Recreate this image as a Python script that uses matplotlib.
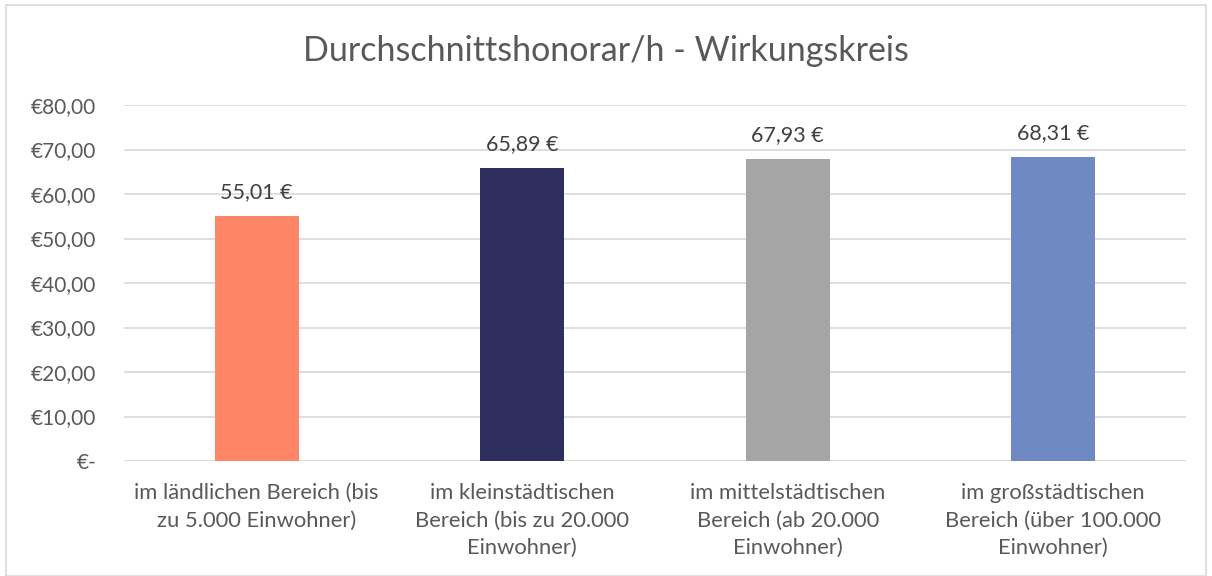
import matplotlib
matplotlib.use("Agg")
import matplotlib.pyplot as plt
from matplotlib.patches import Rectangle

categories = [
    "im ländlichen Bereich (bis\nzu 5.000 Einwohner)",
    "im kleinstädtischen\nBereich (bis zu 20.000\nEinwohner)",
    "im mittelstädtischen\nBereich (ab 20.000\nEinwohner)",
    "im großstädtischen\nBereich (über 100.000\nEinwohner)",
]
values = [55.01, 65.89, 67.93, 68.31]
colors = ["#FF8567", "#2E2F5E", "#A5A5A5", "#6F89C3"]
yticks = [0, 10, 20, 30, 40, 50, 60, 70, 80]
title = "Durchschnittshonorar/h - Wirkungskreis"

plt.rcParams['font.family'] = ['Lato', 'DejaVu Sans']
txt = "#595959"

fig = plt.figure(figsize=(12.12, 5.76), dpi=100)
ax = fig.add_axes([124/1212, 1 - 461/576, (1186-124)/1212, (461-105)/576])

x = list(range(len(values)))
bars = ax.bar(x, values, width=0.316, color=colors, zorder=3)
for xi, v in zip(x, values):
    ax.annotate(f"{v:.2f} €".replace(".", ","), (xi, v), xytext=(0, 10),
                textcoords="offset points", ha="center", va="bottom",
                fontsize=15.5, color="#404040")

ax.set_xlim(-0.5, len(values) - 0.5)
ax.set_ylim(0, 80)
ax.set_yticks(yticks)
ax.set_yticklabels(["€-" if t == 0 else f"€{t},00" for t in yticks])
ax.set_xticks(x)
ax.set_xticklabels(categories, linespacing=1.47)
ax.tick_params(axis="y", length=0, labelsize=15, colors=txt, pad=20)
ax.tick_params(axis="x", length=0, labelsize=15.8, colors=txt, pad=16)
ax.grid(axis="y", color="#D9D9D9", linewidth=1.2, zorder=0)
for s in ax.spines.values():
    s.set_visible(False)
ax.axhline(0, color="#D9D9D9", linewidth=1.5, zorder=2)

fig.text(0.5, 1 - 51/576, title, ha="center", va="center", fontsize=24.5, color=txt)
fig.patches.append(Rectangle((6/1212, 0), 1200/1212, 1 - 5/576, transform=fig.transFigure,
                             fill=False, edgecolor="#D9D9D9", linewidth=1.2))

fig.savefig("out.png", dpi=100)
